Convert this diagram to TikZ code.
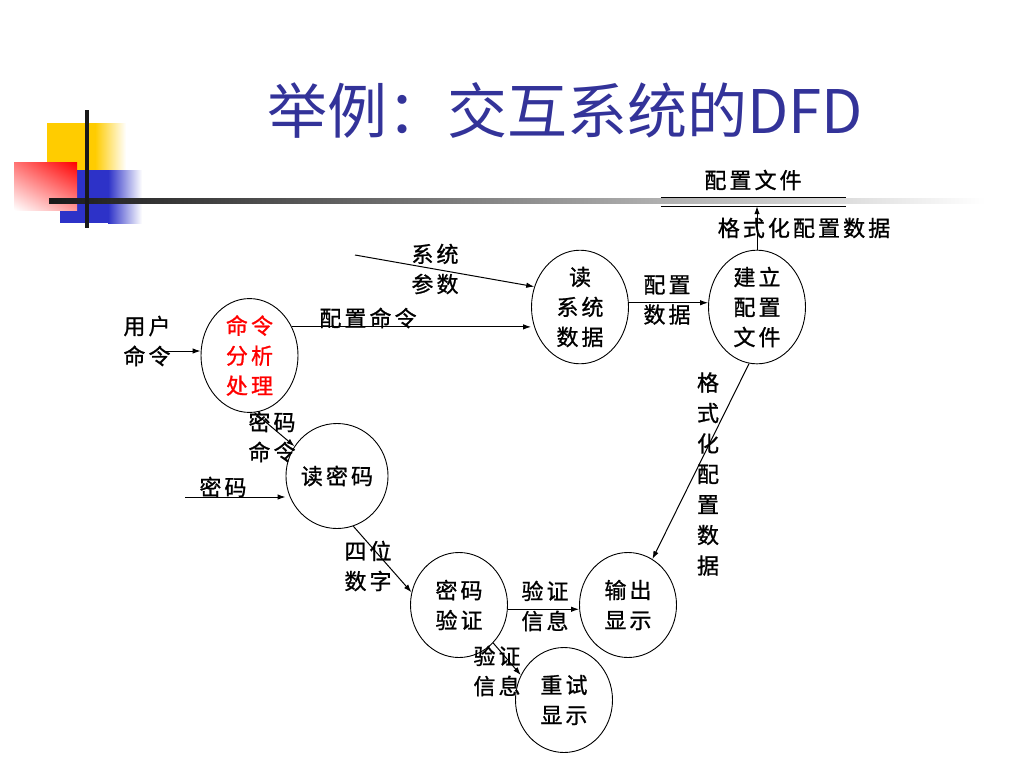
\documentclass[tikz,border=0pt]{standalone}
\usepackage{fontspec}
\setmainfont{Noto Sans CJK SC}
\usetikzlibrary{shapes.geometric,arrows.meta,shadings}
\definecolor{titleblue}{RGB}{51,51,153}
\definecolor{decoyellow}{RGB}{255,204,0}
\definecolor{decoblue}{RGB}{45,50,200}
\newcommand\dfdfont{\fontsize{22}{30}\selectfont\addfontfeature{LetterSpace=14,FakeBold=1}}
\newcommand\dfdvfont{\fontsize{22}{30.5}\selectfont\addfontfeature{FakeBold=1}}
\begin{document}
\begin{tikzpicture}[x=1pt,y=-1pt,
  proc/.style={ellipse, draw, line width=0.9pt, minimum width=97pt, minimum height=105pt, inner sep=0pt, align=center, font=\dfdfont},
  lab/.style={align=center, inner sep=0pt, font=\dfdfont},
  flow/.style={-{Latex[length=8pt,width=5.5pt]}, line width=1pt}]
\useasboundingbox (0,0) rectangle (1024,768);
% decoration
\fill[decoyellow] (47,123) rectangle (95,170);
\shade[left color=decoyellow, right color=white] (95,123) rectangle (126,170);
\fill[decoblue] (60,170) rectangle (108,223);
\shade[left color=decoblue, right color=white] (108,170) rectangle (142,223);
\shade[upper right=red, upper left=red!55, lower right=red!40, lower left=white] (14,162) rectangle (77,210);
\shade[left color=black!90, right color=white] (49,198.5) rectangle (985,203.5);
\draw[line width=3.5pt, black!90] (87,110) -- (87,228);
% title
\node[text=titleblue, font=\fontsize{60}{60}\selectfont, inner sep=0pt] (title) at (565,110) {举例：交互系统的DFD};
% data store
\node[minimum width=185pt, minimum height=8pt, inner sep=0pt] (store) at (753.5,202) {};
\draw[line width=0.9pt] (store.north west) -- (store.north east);
\draw[line width=0.9pt] (store.south west) -- (store.south east);
\node[lab] (storelab) at (753,180) {配置文件};
% processes
\node[proc, text=red] (cmd) at (249.5,355.5) {命令\\分析\\处理};
\node[proc] (rsys) at (580,307) {读\\系统\\数据};
\node[proc] (bconf) at (757,307) {建立\\配置\\文件};
\node[proc] (rpw) at (337,476) {读密码};
\node[proc] (pv) at (459,605) {密码\\验证};
\node[proc] (out) at (628,605) {输出\\显示};
\node[proc] (retry) at (564,700) {重试\\显示};
% free ends
\coordinate (ucmd) at (163,351);
\coordinate (sp) at (355,255);
\coordinate (pwin) at (185,497);
% flows
\draw[flow] (ucmd) -- (ucmd -| cmd.west);
\draw[flow] (cmd.34) -- (cmd.34 -| rsys.west);
\draw[flow] (sp) -- (rsys.156);
\draw[flow] (rsys.5) -- (rsys.5 -| bconf.west);
\draw[flow] (bconf.north) -- (store.south -| bconf.north);
\draw[flow] (bconf.262) -- (out.62);
\draw[flow] (cmd.275) -- (rpw.145);
\draw[flow] (pwin) -- (pwin -| rpw.west);
\draw[flow] (rpw.288) -- (pv.165);
\draw[flow] (pv.355) -- (pv.355 -| out.west);
\draw[flow] (pv.312) -- (retry.150);
% labels
\node[lab] (l1) at (147,341) {用户\\命令};
\node[lab] (l2) at (435,269) {系统\\参数};
\node[lab] (l3) at (368,318) {配置命令};
\node[lab] (l4) at (667,300) {配置\\数据};
\node[lab] (l5) at (804,228) {格式化配置数据};
\node[lab, font=\dfdvfont] (l6) at (708,474) {格\\式\\化\\配\\置\\数\\据};
\node[lab] (l7) at (272,437) {密码\\命令};
\node[lab] (l8) at (223,487) {密码};
\node[lab] (l9) at (368,566) {四位\\数字};
\node[lab] (l10) at (545,606) {验证\\信息};
\node[lab] (l11) at (497,671) {验证\\信息};
\end{tikzpicture}
\end{document}
